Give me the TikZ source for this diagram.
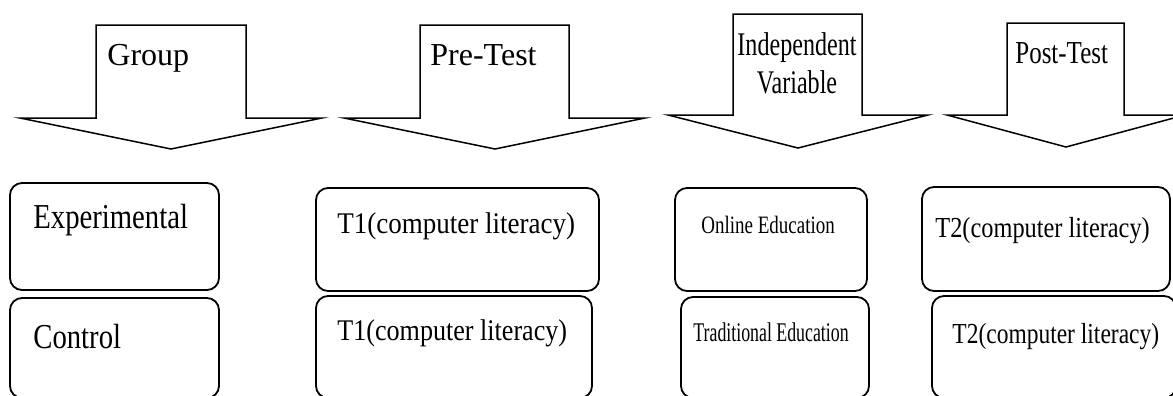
\documentclass[tikz,border=0pt]{standalone}
\usepackage{fontspec}
\setmainfont{Liberation Serif}
\usepackage{graphicx}
\newcommand{\narrowtext}[2]{\scalebox{#1}[1]{#2}}

\begin{document}
\begin{tikzpicture}[x=0.5pt, y=-0.5pt]
	\tikzset{blockarrow/.style={draw, line width=0.75pt, line join=miter},
		box/.style={draw, line width=0.9pt, rounded corners=6pt, inner sep=0pt},
		lbl/.style={inner sep=0pt, anchor=base west}}
	\useasboundingbox (0,0) rectangle (1173,396);

	%% HEADING ARROWS
	\draw[blockarrow] (20,118) -- (96,118) -- (96,25) -- (246,25) -- (246,118) -- (322,118) -- (171,149) -- cycle;
	\draw[blockarrow] (344,118) -- (420,118) -- (420,25) -- (569,25) -- (569,118) -- (645,118) -- (495,149) -- cycle;
	\draw[blockarrow] (668,115) -- (733,115) -- (733,14) -- (862,14) -- (862,115) -- (928,115) -- (798,148) -- cycle;
	\draw[blockarrow] (947,115) -- (1007,115) -- (1007,23) -- (1124,23) -- (1124,115) -- (1185,115) -- (1066,147) -- cycle;

	\node[lbl, font=\fontsize{16pt}{16pt}\selectfont] (Group) at (107,65) {Group};
	\node[lbl, font=\fontsize{16pt}{16pt}\selectfont] (PreTest) at (430,65) {Pre-Test};
	\node[inner sep=0pt, anchor=north, align=center, font=\fontsize{16.5pt}{19pt}\selectfont] (IndVar) at (797,32)
		{\narrowtext{0.73}{Independent}\\\narrowtext{0.73}{Variable}};
	\node[lbl, font=\fontsize{16pt}{16pt}\selectfont] (PostTest) at (1015,63) {\narrowtext{0.78}{Post-Test}};

	%% GROUP COLUMN
	\node[box, minimum width=104.5pt, minimum height=53.5pt] (ExpBox) at (114.5,236.5) {};
	\node[box, minimum width=104.5pt, minimum height=50pt] (CtlBox) at (114.5,348) {};
	\node[lbl, font=\fontsize{17.5pt}{17.5pt}\selectfont] (Exp) at (33,228) {\narrowtext{0.82}{Experimental}};
	\node[lbl, font=\fontsize{17.5pt}{17.5pt}\selectfont] (Ctl) at (33,348) {\narrowtext{0.82}{Control}};

	%% PRE-TEST COLUMN
	\node[box, minimum width=141.5pt, minimum height=51.5pt] (PreBoxA) at (457.5,239.5) {};
	\node[box, minimum width=138pt, minimum height=51pt] (PreBoxB) at (454,347) {};
	\node[lbl, font=\fontsize{15pt}{15pt}\selectfont] (PreA) at (337,233) {\narrowtext{0.9}{T1(computer literacy)}};
	\node[lbl, font=\fontsize{15pt}{15pt}\selectfont] (PreB) at (337,340) {\narrowtext{0.87}{T1(computer literacy)}};

	%% INDEPENDENT VARIABLE COLUMN
	\node[box, minimum width=96pt, minimum height=51.5pt] (OnlBox) at (771,239.5) {};
	\node[box, minimum width=94pt, minimum height=50.5pt] (TradBox) at (775,347.5) {};
	\node[lbl, font=\fontsize{12.5pt}{12.5pt}\selectfont] (Onl) at (701,233) {\narrowtext{0.76}{Online Education}};
	\node[lbl, font=\fontsize{13.5pt}{13.5pt}\selectfont] (Trad) at (693,341) {\narrowtext{0.66}{Traditional Education}};

	%% POST-TEST COLUMN
	\node[box, minimum width=124pt, minimum height=52pt] (PostBoxA) at (1046,239) {};
	\node[box, minimum width=122pt, minimum height=51pt] (PostBoxB) at (1054,347) {};
	\node[lbl, font=\fontsize{14.5pt}{14.5pt}\selectfont] (PostA) at (935,237) {\narrowtext{0.84}{T2(computer literacy)}};
	\node[lbl, font=\fontsize{14.5pt}{14.5pt}\selectfont] (PostB) at (952,343) {\narrowtext{0.81}{T2(computer literacy)}};
\end{tikzpicture}
\end{document}
